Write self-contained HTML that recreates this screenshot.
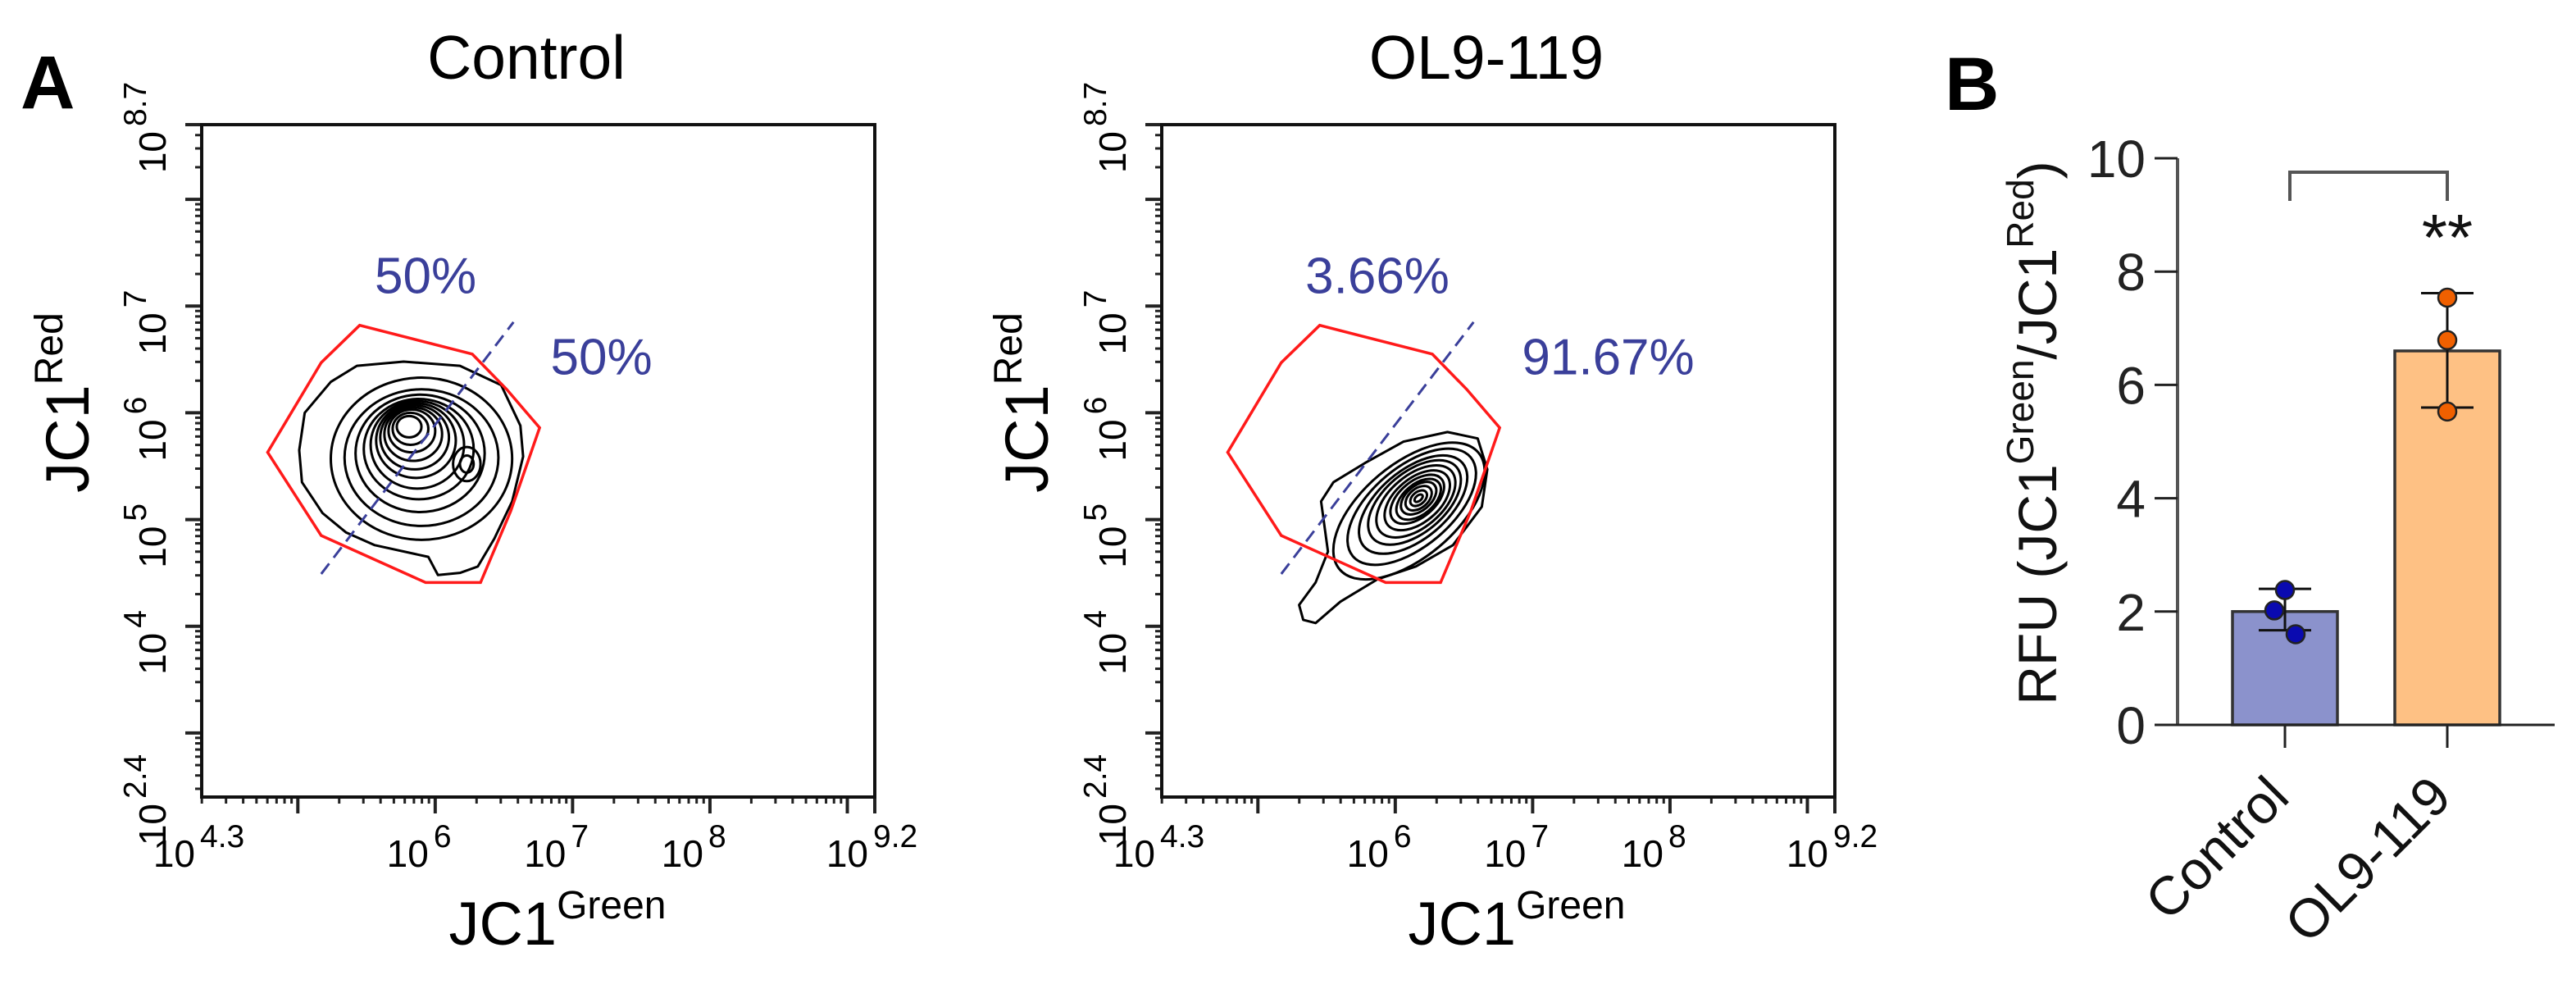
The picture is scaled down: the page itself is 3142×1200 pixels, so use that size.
<!DOCTYPE html>
<html><head><meta charset="utf-8"><style>
html,body{margin:0;padding:0;background:#fff}
svg{display:block}
text{font-family:"Liberation Sans",Arial,sans-serif}
</style></head><body>
<svg id="fig" width="3142" height="1200" viewBox="0 0 3142 1200" xmlns="http://www.w3.org/2000/svg">
<text x="25" y="132" font-size="92" font-weight="bold">A</text>
<text x="2372" y="134" font-size="92" font-weight="bold">B</text>
<g id="pA1"></g>
<g id="pA2"></g>
<g id="pB"></g>
</svg>
<script>
// ---- Panel A data (log10 units) ----
const xDomain = [4.3, 9.2];
const yDomain = [2.4, 8.7];
const xTickLabels = ["4.3", "6", "7", "8", "9.2"];
const xTickValues = [4.3, 6, 7, 8, 9.2];
const yTickLabels = ["2.4", "4", "5", "6", "7", "8.7"];
const yTickValues = [2.4, 4, 5, 6, 7, 8.7];
const gateX = [5.45, 6.27, 6.52, 6.76, 6.55, 6.33, 5.93, 5.17, 4.78, 5.17];
const gateY = [6.82, 6.55, 6.22, 5.86, 5.08, 4.41, 4.41, 4.85, 5.63, 6.47];
const divLineX = [5.17, 6.57];
const divLineY = [4.49, 6.85];
const controlPct = ["50%", "50%"];
const olPct = ["3.66%", "91.67%"];
const pctPosX = [5.93, 7.21];
const pctPosX2 = [5.87, 7.55];
const pctPosY = [7.29, 6.53];
// control outer contour
const ctrlOuterX = [5.01,5.05,5.24,5.43,5.77,6.18,6.48,6.62,6.64,6.56,6.43,6.31,6.18,6.02,5.95,5.56,5.35,5.18,5.03];
const ctrlOuterY = [5.65,6.00,6.29,6.44,6.48,6.44,6.26,5.88,5.59,5.17,4.82,4.56,4.50,4.48,4.65,4.76,4.88,5.06,5.35];
// control inner contours: center x, center y, rx, ry (decades)
const ctrlCx = [5.90,5.90,5.89,5.88,5.87,5.86,5.85,5.84,5.83,5.82,5.81,6.23,6.23];
const ctrlCy = [5.57,5.58,5.62,5.66,5.70,5.74,5.77,5.80,5.83,5.85,5.87,5.52,5.52];
const ctrlRx = [0.66,0.56,0.47,0.40,0.34,0.29,0.25,0.21,0.17,0.13,0.09,0.10,0.05];
const ctrlRy = [0.76,0.64,0.55,0.47,0.41,0.35,0.30,0.25,0.20,0.15,0.10,0.16,0.08];
// OL9-119 outer contour
const olOuterX = [5.33,5.30,5.42,5.51,5.46,5.55,5.78,6.06,6.38,6.60,6.67,6.63,6.42,6.15,5.87,5.60,5.42];
const olOuterY = [4.06,4.20,4.41,4.70,5.17,5.35,5.53,5.73,5.82,5.76,5.47,5.12,4.76,4.56,4.44,4.23,4.03];
const olCx = [6.10,6.12,6.13,6.14,6.15,6.16,6.16,6.17,6.17,6.17,6.17,6.17];
const olCy = [5.08,5.12,5.14,5.16,5.17,5.18,5.19,5.19,5.20,5.20,5.20,5.20];
const olA = [0.66,0.56,0.47,0.40,0.34,0.28,0.23,0.19,0.15,0.11,0.07,0.035];
const olB = [0.34,0.29,0.25,0.22,0.19,0.16,0.13,0.11,0.09,0.07,0.045,0.02];

// ---- Panel B data ----
const categories = ["Control", "OL9-119"];
const barMeans = [2.0, 6.6];
const errLow = [1.67, 5.6];
const errHigh = [2.4, 7.62];
const ctrlPoints = [2.38, 2.02, 1.60];
const olPoints = [7.54, 6.79, 5.53];
const barTicks = [0, 2, 4, 6, 8, 10];
const barTickLabels = ["0", "2", "4", "6", "8", "10"];

const NS = "http://www.w3.org/2000/svg";
function mk(tag, attrs, parent){const e=document.createElementNS(NS,tag);for(const k in attrs)e.setAttribute(k,attrs[k]);parent.appendChild(e);return e;}

function flowPanel(g, L, title, titleX, ytitleX, xtitleX, outerX, outerY, inner, pct, pctX, ytickX){
  const T=152,B=972,R=L+821;
  const sx=v=>L+(v-xDomain[0])/(xDomain[1]-xDomain[0])*(R-L);
  const sy=v=>B-(v-yDomain[0])/(yDomain[1]-yDomain[0])*(B-T);
  let t=mk('text',{x:titleX,y:96,'font-size':75,'text-anchor':'middle'},g);
  
  
  t.textContent=title;
  for(let d=2;d<=9;d++){
    for(let k=1;k<=9;k++){
      const v=d+Math.log10(k);
      if(v>xDomain[0]&&v<xDomain[1]){const isMaj=k===1;const ln=mk('line',{x1:sx(v),x2:sx(v),y1:B,y2:B+(isMaj?20:8),stroke:'#222','stroke-width':isMaj?4:3},g);}
      if(v>yDomain[0]&&v<yDomain[1]){const isMaj=k===1;const ln=mk('line',{y1:sy(v),y2:sy(v),x1:L,x2:L-(isMaj?20:8),stroke:'#222','stroke-width':isMaj?4:3},g);}
    }
  }
  mk('line',{x1:sx(xDomain[1]),x2:sx(xDomain[1]),y1:B,y2:B+20,stroke:'#222','stroke-width':4},g);
  mk('line',{x1:L,x2:L-20,y1:T,y2:T,stroke:'#222','stroke-width':4},g);
  const box=mk('rect',{x:L,y:T,width:R-L,height:B-T,fill:'none',stroke:'#111','stroke-width':4},g);
  
  
  xTickValues.forEach((v,i)=>{
    const x=sx(v);
    const tx=mk('text',{x:x-8,y:1057,'font-size':46,'text-anchor':'end'},g);
    
    
    tx.textContent='10';
    const ex=mk('text',{x:x-2,y:1033,'font-size':39},g);
    
    
    ex.textContent=xTickLabels[i];
  });
  yTickValues.forEach((v,i)=>{
    const y=sy(v);
    const gg=mk('g',{transform:`translate(${ytickX},${y}) rotate(-90)`},g);
    const tx=mk('text',{x:-8,y:0,'font-size':46,'text-anchor':'end'},gg);
    
    
    tx.textContent='10';
    const ex=mk('text',{x:-2,y:-24,'font-size':39},gg);
    
    
    ex.textContent=yTickLabels[i];
  });
  const yt=mk('text',{transform:`translate(${ytitleX},491) rotate(-90)`,'font-size':74,'text-anchor':'middle'},g);
  
  
  yt.innerHTML='JC1<tspan font-size="48" dy="-32">Red</tspan>';
  const xt=mk('text',{x:xtitleX,y:1152,'font-size':74,'text-anchor':'middle'},g);
  
  
  xt.innerHTML='JC1<tspan font-size="48" dy="-32">Green</tspan>';
  let d='M'+outerX.map((v,i)=>sx(v)+','+sy(outerY[i])).join(' L')+' Z';
  const oc=mk('path',{d:d,fill:'none',stroke:'#000','stroke-width':3,'stroke-linejoin':'round'},g);
  
  
  const pxX=(R-L)/(xDomain[1]-xDomain[0]), pxY=(B-T)/(yDomain[1]-yDomain[0]);
  inner.cx.forEach((cx,i)=>{
    const e=mk('ellipse',{cx:sx(cx),cy:sy(inner.cy[i]),rx:inner.rx[i]*pxX,ry:inner.ry[i]*(inner.rot?pxX:pxY),fill:'none',stroke:'#000','stroke-width':3},g);
    if(inner.rot)e.setAttribute('transform',`rotate(${inner.rot} ${sx(cx)} ${sy(inner.cy[i])})`);
    
    
  });
  const gp=mk('polygon',{points:gateX.map((v,i)=>sx(v)+','+sy(gateY[i])).join(' '),fill:'none',stroke:'#ff1a1a','stroke-width':3.5},g);
  
  
  const dl=mk('line',{x1:sx(divLineX[0]),y1:sy(divLineY[0]),x2:sx(divLineX[1]),y2:sy(divLineY[1]),stroke:'#3a3f9a','stroke-width':3,'stroke-dasharray':'16 9'},g);
  
  
  pct.forEach((p,i)=>{
    const tx=mk('text',{x:sx(pctX[i]),y:sy(pctPosY[i])+22,'font-size':62,'text-anchor':'middle',fill:'#3a3f9a'},g);
    
    
    tx.textContent=p;
  });
}
flowPanel(document.getElementById('pA1'),246,'Control',642,108,680,ctrlOuterX,ctrlOuterY,{cx:ctrlCx,cy:ctrlCy,rx:ctrlRx,ry:ctrlRy},controlPct,pctPosX,202);
flowPanel(document.getElementById('pA2'),1417,'OL9-119',1813,1278,1850,olOuterX,olOuterY,{cx:olCx,cy:olCy,rx:olA,ry:olB,rot:-40},olPct,pctPosX2,1373);

// ---- Panel B ----
(function(){
  const g=document.getElementById('pB');
  const y0=884,y10=193,ax=2656;
  const sy=v=>y0-(v/10)*(y0-y10);
  const cxs=[2787,2985];
  const bw=128;
  const ya=mk('line',{x1:ax,x2:ax,y1:y10,y2:y0,stroke:'#555','stroke-width':4},g);
  
  
  barTicks.forEach((v,i)=>{
    const tk=mk('line',{x1:2628,x2:ax,y1:sy(v),y2:sy(v),stroke:'#222','stroke-width':3},g);
    
    
    const tl=mk('text',{x:2617,y:sy(v)+23,'font-size':64,'text-anchor':'end',fill:'#222'},g);
    
    
    tl.textContent=barTickLabels[i];
  });
  const fills=['#8b92cc','#fec184'];
  const ptsAll=[ctrlPoints,olPoints];
  const jit=[[0,-13,13],[0,0,0]];
  const dotFill=['#0a0ab0','#f06000'];
  categories.forEach((c,i)=>{
    const r=mk('rect',{x:cxs[i]-bw/2,y:sy(barMeans[i]),width:bw,height:y0-sy(barMeans[i]),fill:fills[i],stroke:'#333','stroke-width':3.5},g);
    
    
    const eb=mk('path',{d:`M${cxs[i]},${sy(errLow[i])}V${sy(errHigh[i])}M${cxs[i]-32},${sy(errHigh[i])}H${cxs[i]+32}M${cxs[i]-32},${sy(errLow[i])}H${cxs[i]+32}`,stroke:'#111','stroke-width':3,fill:'none'},g);
    
    
    ptsAll[i].forEach((p,j)=>{
      const dt=mk('circle',{cx:cxs[i]+jit[i][j],cy:sy(p),r:11,fill:dotFill[i],stroke:'#222','stroke-width':2.5},g);
      
      
    });
    const xt=mk('line',{x1:cxs[i],x2:cxs[i],y1:y0,y2:912,stroke:'#222','stroke-width':3},g);
    
    
    const lb=mk('text',{transform:`translate(${cxs[i]+8},${975}) rotate(-45)`,'font-size':66,'text-anchor':'end',fill:'#111'},g);
    
    
    lb.textContent=c;
  });
  const bl=mk('line',{x1:2628,x2:3116,y1:y0,y2:y0,stroke:'#222','stroke-width':3},g);
  
  
  const br=mk('path',{d:`M${cxs[0]+6},245V210H${cxs[1]}V245`,fill:'none',stroke:'#555','stroke-width':4},g);
  
  
  const st=mk('text',{x:cxs[1],y:317,'font-size':80,'text-anchor':'middle',fill:'#111'},g);
  
  
  st.textContent='**';
  const yt=mk('text',{transform:'translate(2508,528) rotate(-90)','font-size':66,'text-anchor':'middle',fill:'#111'},g);
  
  
  yt.innerHTML='RFU (JC1<tspan font-size="46" dy="-28">Green</tspan><tspan dy="28">/JC1</tspan><tspan font-size="46" dy="-28">Red</tspan><tspan dy="28">)</tspan>';
})();
</script>
</body></html>
